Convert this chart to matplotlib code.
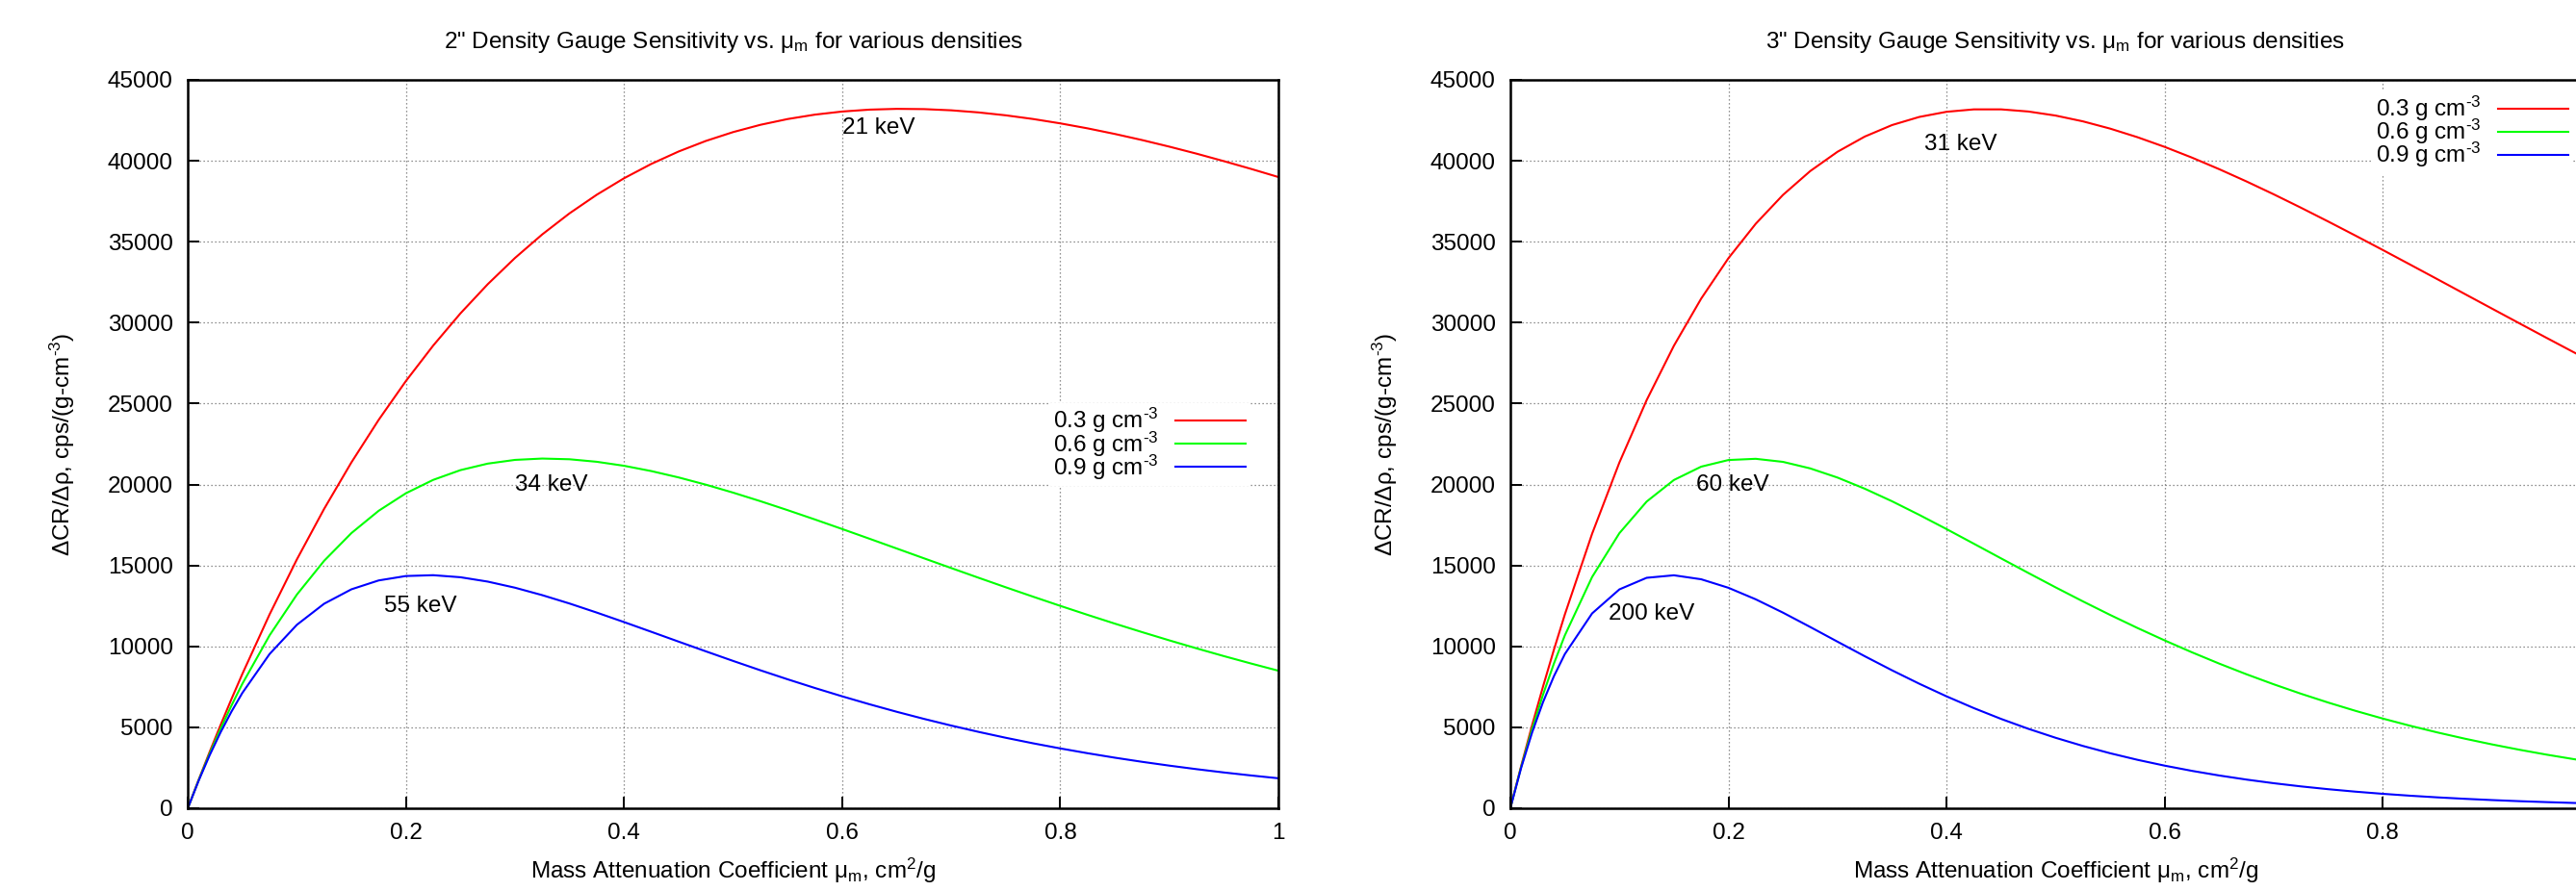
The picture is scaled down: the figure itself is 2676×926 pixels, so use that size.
"""Density gauge sensitivity vs. mass attenuation coefficient, 2" and 3" gauges.

Two side-by-side panels (gnuplot look): dCR/drho against mu_m for three
material densities, with the photon energy of each peak written next to it.
The right panel runs past the right edge of the picture, as in the original.
"""

import matplotlib

matplotlib.use("Agg")
import matplotlib.pyplot as plt

# ---------------------------------------------------------------- data ----
# Mass attenuation coefficient mu_m, cm^2/g.
MU = [0.0, 0.01, 0.02, 0.03, 0.04, 0.05,
      0.075, 0.1, 0.125, 0.15, 0.175, 0.2,
      0.225, 0.25, 0.275, 0.3, 0.325, 0.35, 0.375, 0.4,
      0.425, 0.45, 0.475, 0.5, 0.525, 0.55, 0.575, 0.6,
      0.625, 0.65, 0.675, 0.7, 0.725, 0.75, 0.775, 0.8,
      0.825, 0.85, 0.875, 0.9, 0.925, 0.95, 0.975, 1.0]

# 2" gauge, dCR/drho in cps/(g-cm^-3)
S2_RHO03 = [0, 1763, 3473, 5130, 6737, 8293,
            11975, 15370, 18494, 21363, 23992, 26394,
            28583, 30573, 32373, 33995, 35451, 36752, 37903, 38920,
            39806, 40572, 41225, 41772, 42221, 42578, 42850, 43042,
            43159, 43207, 43191, 43117, 42987, 42807, 42580, 42310,
            42002, 41656, 41279, 40871, 40437, 39975, 39495, 38993]
S2_RHO06 = [0, 1736, 3368, 4901, 6338, 7685,
            10682, 13197, 15286, 16997, 18375, 19459,
            20285, 20888, 21290, 21520, 21603, 21559, 21403, 21156,
            20829, 20436, 19989, 19497, 18969, 18414, 17839, 17249,
            16650, 16045, 15439, 14837, 14239, 13649, 13070, 12501,
            11946, 11404, 10879, 10369, 9875, 9397, 8938, 8494]
S2_RHO09 = [0, 1710, 3267, 4682, 5963, 7121,
            9528, 11331, 12634, 13524, 14073, 14346,
            14397, 14270, 14001, 13624, 13164, 12647, 12086, 11500,
            10899, 10293, 9692, 9100, 8522, 7964, 7427, 6913,
            6423, 5958, 5519, 5106, 4717, 4352, 4011, 3694,
            3398, 3122, 2867, 2631, 2412, 2209, 2023, 1850]

# 3" gauge
S3_RHO03 = [0, 2623, 5128, 7518, 9798, 11970,
            16958, 21355, 25211, 28573, 31484, 33982,
            36106, 37891, 39364, 40556, 41495, 42206, 42708, 43026,
            43175, 43175, 43043, 42792, 42435, 41986, 41456, 40856,
            40195, 39479, 38722, 37926, 37097, 36244, 35372, 34486,
            33587, 32683, 31775, 30869, 29964, 29063, 28171, 27288]
S3_RHO06 = [0, 2564, 4899, 7020, 8942, 10678,
            14286, 16991, 18945, 20278, 21102, 21512,
            21587, 21398, 20994, 20428, 19739, 18964, 18122, 17244,
            16342, 15434, 14533, 13644, 12779, 11941, 11136, 10366,
            9632, 8934, 8275, 7655, 7072, 6526, 6015, 5538,
            5095, 4682, 4299, 3944, 3616, 3312, 3033, 2774]
S3_RHO09 = [0, 2506, 4680, 6555, 8160, 9524,
            12036, 13519, 14236, 14391, 14145, 13618,
            12907, 12083, 11196, 10289, 9390, 8520, 7690, 6911,
            6185, 5517, 4906, 4351, 3848, 3396, 2991, 2630,
            2308, 2022, 1769, 1545, 1348, 1175, 1023, 890,
            773, 671, 582, 504, 436, 378, 326, 282]

DENSITY_LABELS = [r"0.3 g cm$^{\text{-3}}$", r"0.6 g cm$^{\text{-3}}$",
                  r"0.9 g cm$^{\text{-3}}$"]

# Peak energy labels: (text, mu, value)
NOTES_2IN = [("21 keV", 0.60, 42000), ("34 keV", 0.30, 20000),
             ("55 keV", 0.18, 12500)]
NOTES_3IN = [("31 keV", 0.38, 41000), ("60 keV", 0.17, 20000),
             ("200 keV", 0.09, 12000)]

X_TICKS = [0.0, 0.2, 0.4, 0.6, 0.8, 1.0]
X_TICK_LABELS = ["0", "0.2", "0.4", "0.6", "0.8", "1"]
Y_TICKS = [0, 5000, 10000, 15000, 20000, 25000, 30000, 35000, 40000, 45000]

TITLE_2IN = r'2" Density Gauge Sensitivity vs. μ$_\mathrm{m}$ for various densities'
TITLE_3IN = r'3" Density Gauge Sensitivity vs. μ$_\mathrm{m}$ for various densities'

# --------------------------------------------------------------- style ----
COLORS = ["#ff0000", "#00ff00", "#0000ff"]
FONT = "Liberation Sans"
FS = 17.5

XLABEL = r"Mass Attenuation Coefficient μ$_\mathrm{m}$, cm$^2$/g"
YLABEL = r"ΔCR/Δρ, cps/(g-cm$^{\text{-3}}$)"


def _draw_panel(ax, series, title, notes, legend_loc, legend_anchor):
    for ys, col, lab in zip(series, COLORS, DENSITY_LABELS):
        ax.plot(MU, ys, color=col, lw=1.5, label=lab)

    ax.set_xlim(0, 1)
    ax.set_ylim(0, 45000)
    ax.set_xticks(X_TICKS)
    ax.set_xticklabels(X_TICK_LABELS)
    ax.set_yticks(Y_TICKS)
    ax.tick_params(direction="in", length=8.5, width=1.4, pad=11,
                   top=False, right=False, labelsize=FS)
    ax.grid(True, color="#6e6e6e", lw=0.9, linestyle=(0, (1, 2.2)))
    for side in ("left", "right", "top", "bottom"):
        ax.spines[side].set_linewidth(1.8)

    for text, x, y in notes:
        ax.text(x, y, text, ha="left", va="center", fontsize=FS)

    ax.set_title(title, fontsize=FS, pad=24)
    ax.set_xlabel(XLABEL, fontsize=FS, labelpad=9)
    ax.set_ylabel(YLABEL, fontsize=FS, labelpad=23)

    # gnuplot-style key: text first, sample line after, opaque, no border
    leg = ax.legend(loc=legend_loc, bbox_to_anchor=legend_anchor,
                    markerfirst=False, fontsize=FS, handlelength=3.0,
                    handletextpad=0.7, labelspacing=-0.25, borderpad=0.15,
                    borderaxespad=0.0, frameon=True, fancybox=False,
                    framealpha=1.0, facecolor="white", edgecolor="white")
    for line in leg.get_lines():
        line.set_linewidth(1.5)


def main():
    plt.rcParams.update({
        "font.family": [FONT, "DejaVu Sans"],
        "mathtext.fontset": "custom",
        "mathtext.rm": FONT,
        "mathtext.it": FONT,
        "mathtext.bf": FONT,
    })

    fig = plt.figure(figsize=(26.76, 9.26), dpi=100)
    ax_l = fig.add_axes([0.0729, 0.0929, 0.4234, 0.8175])
    ax_r = fig.add_axes([0.5863, 0.0929, 0.4234, 0.8175])

    _draw_panel(ax_l, [S2_RHO03, S2_RHO06, S2_RHO09], TITLE_2IN,
                NOTES_2IN, "center right", (0.973, 0.5))
    _draw_panel(ax_r, [S3_RHO03, S3_RHO06, S3_RHO09], TITLE_3IN,
                NOTES_3IN, "upper right", (0.973, 0.985))

    fig.savefig("out.png", dpi=100)
    plt.close(fig)


if __name__ == "__main__":
    main()
